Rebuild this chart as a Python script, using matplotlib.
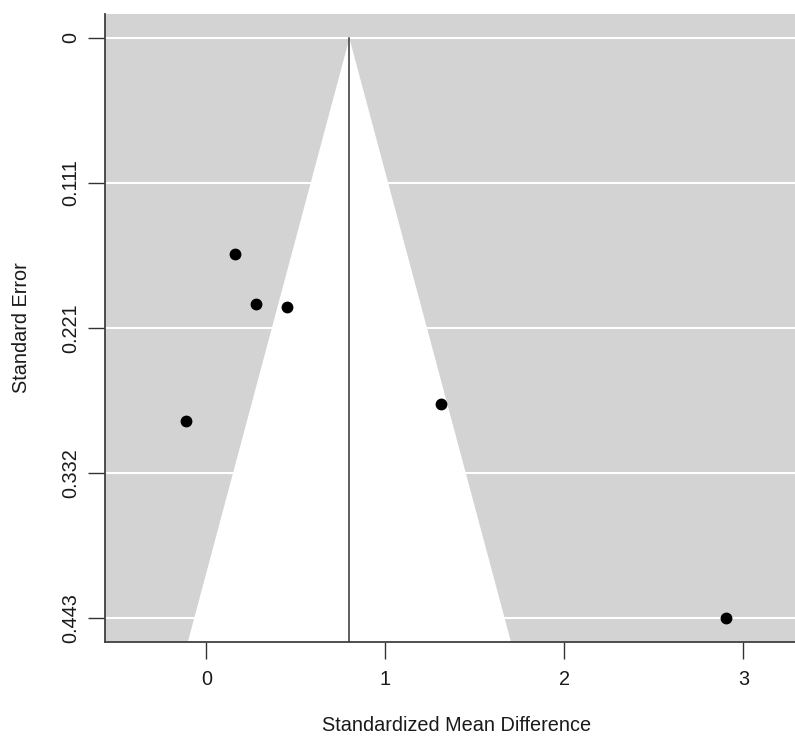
import matplotlib
matplotlib.use("Agg")
import matplotlib.pyplot as plt
import numpy as np

plt.rcParams['font.family'] = ['Liberation Sans', 'DejaVu Sans']

# effect sizes (SMD) and their standard errors
smd = [0.159, 0.278, 0.451, -0.116, 1.308, 2.904]
se = [0.1653, 0.2032, 0.2055, 0.2925, 0.2797, 0.443]
estimate = 0.796
se_ticks = [0, 0.11075, 0.2215, 0.33225, 0.443]
se_labels = ["0", "0.111", "0.221", "0.332", "0.443"]
x_ticks = [0, 1, 2, 3]

xlim = (-0.567, 3.289)
ylim = (0.4609, -0.0181)

fig = plt.figure(figsize=(7.95, 7.36), dpi=100)
ax = fig.add_axes([0.1321, 0.1281, 1 - 0.1321, 0.981 - 0.1281])
ax.set_facecolor('#D3D3D3')

# white grid lines at the y ticks
for t in se_ticks:
    ax.axhline(t, color='white', lw=1.5, zorder=1)

# pseudo confidence region (white funnel)
se_seq = np.array([0, ylim[0]])
ax.fill_betweenx(se_seq, estimate - 1.96 * se_seq, estimate + 1.96 * se_seq,
                 color='white', lw=0, zorder=2)

ax.plot([estimate, estimate], [0, ylim[0]], color='#333333', lw=1.1, zorder=3)
ax.plot(smd, se, 'o', color='black', ms=7.5, zorder=4)

ax.set_xlim(*xlim)
ax.set_ylim(*ylim)

ax.set_xticks(x_ticks)
ax.set_xticklabels([str(t) for t in x_ticks])
ax.set_yticks(se_ticks)
ax.set_yticklabels(se_labels, rotation=90, va='center')

ax.tick_params(axis='both', labelsize=14.3, length=12, width=1, color='#333333',
               labelcolor='#1a1a1a')
ax.tick_params(axis='x', pad=8.5)
ax.tick_params(axis='y', pad=6)

for s in ['top', 'right']:
    ax.spines[s].set_visible(False)
for s in ['left', 'bottom']:
    ax.spines[s].set_color('#404040')
    ax.spines[s].set_linewidth(1.3)

ax.set_xlabel("Standardized Mean Difference", fontsize=14.3, color='#1a1a1a', va='center')
ax.set_ylabel("Standard Error", fontsize=14.3, color='#1a1a1a', va='center')
ax.xaxis.set_label_coords((457 - 105) / 690, -(725 - 641.7) / (641.7 - 14))
ax.yaxis.set_label_coords(-(105 - 21) / 690, 0.5)

fig.savefig("out.png", dpi=100)
